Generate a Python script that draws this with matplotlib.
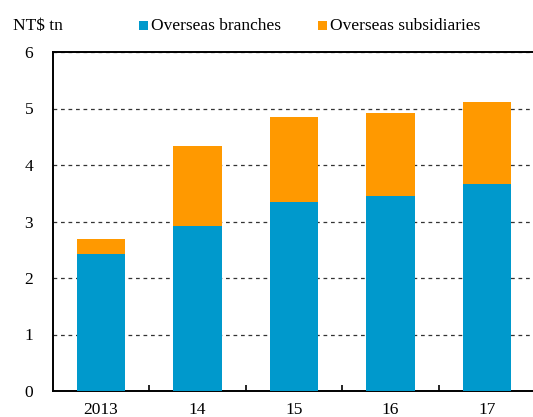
import matplotlib
matplotlib.use("Agg")
import matplotlib.pyplot as plt
from matplotlib.patches import Rectangle
import numpy as np

years = ["2013", "14", "15", "16", "17"]
branches = [2.42, 2.92, 3.35, 3.45, 3.66]
subsidiaries = [0.27, 1.42, 1.50, 1.47, 1.46]

blue = "#0099CC"
orange = "#FF9900"

plt.rcParams["font.family"] = ["Liberation Serif", "DejaVu Serif"]
plt.rcParams["font.size"] = 12.5

W, H = 533, 417
fig = plt.figure(figsize=(W / 100, H / 100), dpi=100)
left, right, top, bottom = 52.5, 535.5, 52, 391
ax = fig.add_axes([left / W, 1 - bottom / H, (right - left) / W, (bottom - top) / H])

x = np.arange(len(years))
ax.bar(x, branches, width=0.5, color=blue, zorder=3)
ax.bar(x, subsidiaries, width=0.5, bottom=branches, color=orange, zorder=3)

ax.set_xlim(-0.5, len(years) - 0.5)
ax.set_ylim(0, 6)
ax.set_yticks(range(0, 7))
ax.yaxis.grid(True, linestyle=(0, (3, 3)), color="#333333", linewidth=0.9, zorder=0)

ax.set_xticks(x)
ax.set_xticklabels(years)
ax.set_xticks(np.arange(0.5, len(years) - 1, 1), minor=True)
ax.tick_params(axis="x", which="major", length=0, pad=8)
ax.tick_params(axis="x", which="minor", direction="in", length=4, width=1.2)
ax.tick_params(axis="y", length=0, pad=14)
for lab in ax.get_yticklabels():
    lab.set_horizontalalignment("center")
ax.tick_params(axis="y", pad=17)

for side in ["left", "top", "bottom"]:
    ax.spines[side].set_linewidth(1.4)
    ax.spines[side].set_color("black")
ax.spines["right"].set_visible(False)

fig.text(13 / W, 1 - 26 / H, "NT$ tn", ha="left", va="center")
fig.patches.append(Rectangle((139 / W, 1 - 30 / H), 9 / W, 9 / H, transform=fig.transFigure,
                             facecolor=blue, edgecolor="none"))
fig.text(151 / W, 1 - 26 / H, "Overseas branches", ha="left", va="center")
fig.patches.append(Rectangle((318 / W, 1 - 30 / H), 9 / W, 9 / H, transform=fig.transFigure,
                             facecolor=orange, edgecolor="none"))
fig.text(330 / W, 1 - 26 / H, "Overseas subsidiaries", ha="left", va="center")

fig.savefig("out.png", dpi=100)
